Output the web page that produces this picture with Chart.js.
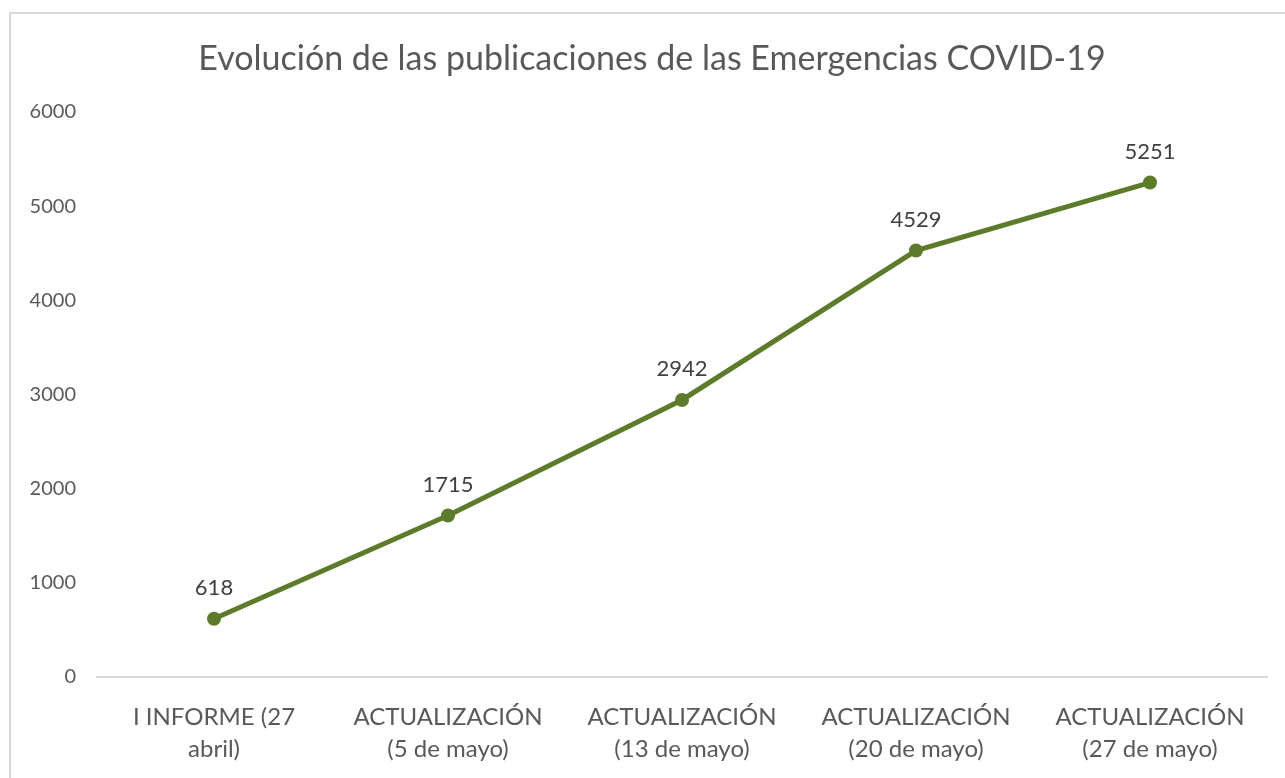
<!DOCTYPE html>
<html>
<head>
  <meta charset="utf-8">
  <title>Evolución de las publicaciones</title>
  <script src="https://cdn.jsdelivr.net/npm/chart.js"></script>
  <style>
    body { margin: 0; background: #fff; }
  </style>
</head>
<body>
  <div style="width:1285px;height:778px;">
    <canvas id="canvas"></canvas>
  </div>
  <script>
    var chartTitle = 'Evolución de las publicaciones de las Emergencias COVID-19';
    var labels = [
      ['I INFORME (27', 'abril)'],
      ['ACTUALIZACIÓN', '(5 de mayo)'],
      ['ACTUALIZACIÓN', '(13 de mayo)'],
      ['ACTUALIZACIÓN', '(20 de mayo)'],
      ['ACTUALIZACIÓN', '(27 de mayo)']
    ];
    var publicaciones = [618, 1715, 2942, 4529, 5251];
    var yMax = 6000;
    var yStep = 1000;

    var fontFam = 'Lato, "Open Sans", sans-serif';
    var textGrey = '#595959';
    var lineGreen = '#5e7b2c';

    // frame round the whole chart + title centred like the original (a bit right of middle)
    var framePlugin = {
      id: 'frame',
      beforeDraw: function(chart) {
        var c = chart.ctx;
        c.save();
        c.fillStyle = '#fff';
        c.fillRect(0, 0, chart.width, chart.height);
        c.strokeStyle = '#d9d9d9';
        c.lineWidth = 2;
        c.strokeRect(10, 13, chart.width + 10, chart.height + 10);
        c.font = '34px ' + fontFam;
        c.fillStyle = textGrey;
        c.textAlign = 'center';
        c.textBaseline = 'middle';
        c.fillText(chartTitle, 652, 59);
        c.restore();
      }
    };

    // value labels above each point
    var valueLabels = {
      id: 'valueLabels',
      afterDatasetsDraw: function(chart) {
        var c = chart.ctx;
        var meta = chart.getDatasetMeta(0);
        c.save();
        c.font = '22px ' + fontFam;
        c.fillStyle = '#404040';
        c.textAlign = 'center';
        c.textBaseline = 'middle';
        meta.data.forEach(function(pt, i) {
          c.fillText(chart.data.datasets[0].data[i], pt.x, pt.y - 31);
        });
        c.restore();
      }
    };

    var ctx = document.getElementById('canvas').getContext('2d');
    var myLine = new Chart(ctx, {
      type: 'line',
      data: {
        labels: labels,
        datasets: [{
          label: 'Publicaciones',
          data: publicaciones,
          borderColor: lineGreen,
          backgroundColor: lineGreen,
          borderWidth: 5,
          pointRadius: 7,
          pointHoverRadius: 7,
          pointBorderWidth: 0,
          fill: false,
          tension: 0
        }]
      },
      options: {
        responsive: true,
        maintainAspectRatio: false,
        animation: false,
        layout: { padding: { top: 112, left: 0, right: 18, bottom: 0 } },
        plugins: {
          legend: { display: false },
          tooltip: { enabled: false },
          title: { display: false }
        },
        scales: {
          x: {
            offset: true,
            grid: { display: false, drawTicks: false },
            border: { display: true, color: '#d9d9d9', width: 2 },
            afterFit: function(scale) { scale.height = 101; },
            ticks: {
              color: textGrey,
              font: { family: fontFam, size: 24, lineHeight: 1.3 },
              padding: 25,
              maxRotation: 0,
              autoSkip: false
            }
          },
          y: {
            min: 0,
            max: yMax,
            grid: { display: false, drawTicks: false },
            border: { display: false },
            afterFit: function(scale) { scale.width = 97; },
            ticks: {
              stepSize: yStep,
              color: textGrey,
              font: { family: fontFam, size: 20 },
              padding: 21,
              callback: function(v) { return String(v); }
            }
          }
        }
      },
      plugins: [framePlugin, valueLabels]
    });
  </script>
</body>
</html>
